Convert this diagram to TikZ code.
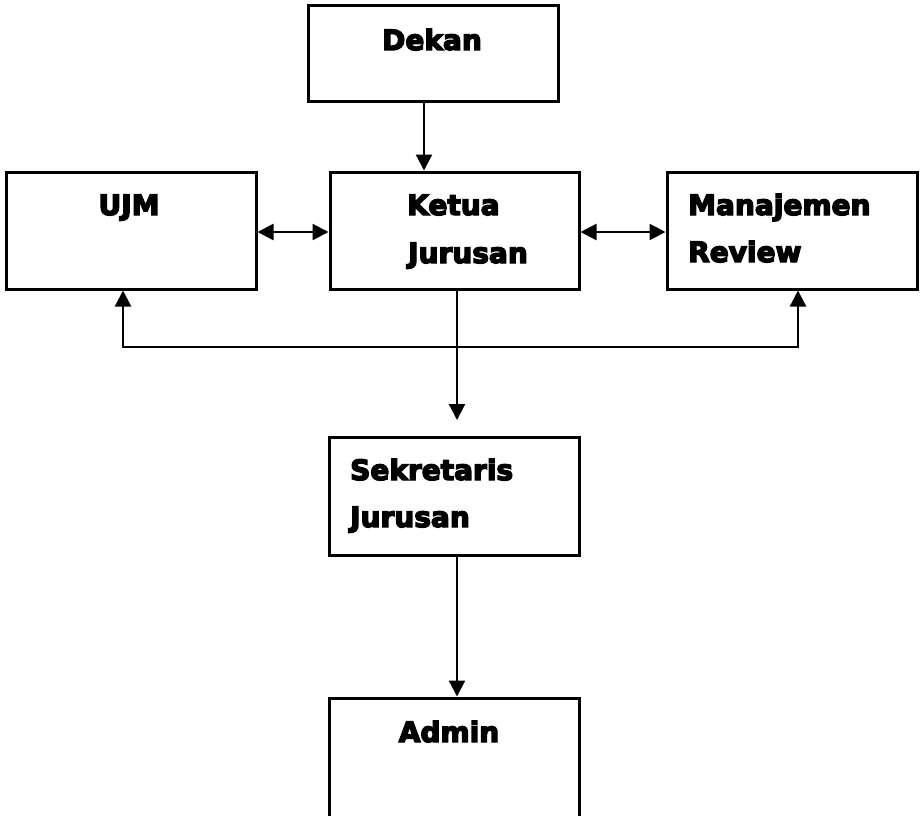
\documentclass[tikz,border=0pt]{standalone}
\usepackage{fontspec}
\setmainfont{DejaVu Sans}
\newfontfamily\heavyfont{DejaVu Sans Bold}[FakeBold=5]
\usetikzlibrary{arrows.meta}
\begin{document}
\begin{tikzpicture}[x=1pt,y=-1pt,
  box/.style={draw=black,line width=3pt,minimum width=250pt,inner sep=0pt,fill=white},
  lbl/.style={inner sep=0pt,font=\fontsize{28}{30}\selectfont\heavyfont},
  conn/.style={draw=black,line width=2.3pt},
  tip/.style={-{Triangle[length=16pt,width=16pt]}},
  dtip/.style={{Triangle[length=16pt,width=16pt]}-{Triangle[length=16pt,width=16pt]}}]
\useasboundingbox (0,0) rectangle (920,815);
\clip (0,0) rectangle (920,815);
\fill[white] (0,0) rectangle (920,815);
% boxes
\node[box,minimum height=96pt] (dekan) at (433,53) {};
\node[box,minimum height=117pt] (ujm) at (131,230.5) {};
\node[box,minimum width=249pt,minimum height=117pt] (ketua) at (454.5,230.5) {};
\node[box,minimum height=117pt] (mr) at (792,230.5) {};
\node[box,minimum height=118pt] (sek) at (454,496) {};
\node[box,minimum height=140pt] (admin) at (454,768) {};
% labels
\node[lbl,anchor=base] (tdekan) at (432,50) {Dekan};
\node[lbl,anchor=base] (tujm) at (129,215) {UJM};
\node[lbl,anchor=base west] (tketua1) at (407,215) {Ketua};
\node[lbl,anchor=base west] (tketua2) at (408,263) {Jurusan};
\node[lbl,anchor=base west] (tmr1) at (688,215) {Manajemen};
\node[lbl,anchor=base west] (tmr2) at (688,262) {Review};
\node[lbl,anchor=base west] (tsek1) at (350,480) {Sekretaris};
\node[lbl,anchor=base west] (tsek2) at (350,527) {Jurusan};
\node[lbl,anchor=base] (tadmin) at (449,742) {Admin};
% helper coordinates
\coordinate (bus) at (0,347);
\coordinate (ketend) at (457,420);
% connectors
\draw[conn,tip] ([xshift=-9pt]dekan.south) -- ([xshift=-9pt]dekan.south |- ketua.north);
\draw[conn,dtip] ([yshift=-1.5pt]ujm.east) -- ([yshift=-1.5pt]ketua.west);
\draw[conn,dtip] ([yshift=-1.5pt]ketua.east) -- ([yshift=-1.5pt]mr.west);
\draw[conn,tip] ([xshift=2.5pt]ketua.south) -- (ketend);
\draw[conn,dtip] ([xshift=-8pt]ujm.south) -- ([xshift=-8pt]ujm.south |- bus) -| ([xshift=6pt]mr.south);
\draw[conn,tip] ([xshift=3pt]sek.south) -- ([xshift=3pt]sek.south |- admin.north);
\end{tikzpicture}
\end{document}
